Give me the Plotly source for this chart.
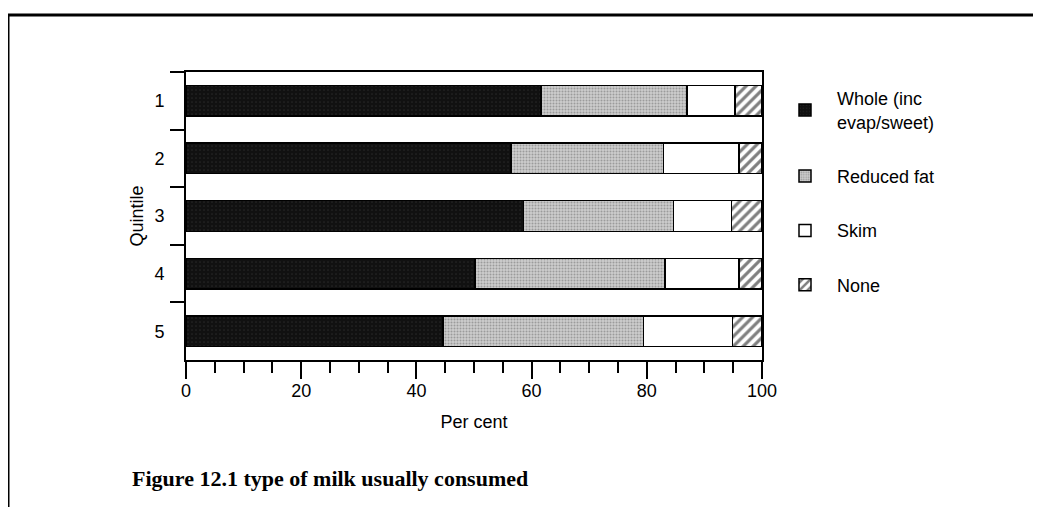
import plotly.graph_objects as go

quintiles = ["1", "2", "3", "4", "5"]
whole = [61.6, 56.4, 58.6, 50.2, 44.6]
reduced_fat = [25.4, 26.5, 26.0, 33.0, 34.8]
skim = [8.3, 13.1, 10.1, 12.8, 15.5]
none_ = [4.7, 4.0, 5.3, 4.0, 5.1]

series_names = ["Whole (inc<br>evap/sweet)", "Reduced fat", "Skim", "None"]
x_ticks = [0, 20, 40, 60, 80, 100]

# page body has an 8px margin; work in window pixels and compensate
OFF = 8
W, H = 1041 - OFF, 507 - OFF
L, R, T, B = 186 - OFF, 762 - OFF, 72 - OFF, 360 - OFF


def px_x(p):
    return (p - OFF - L) / (R - L)


def px_y(p):
    return (B - (p - OFF)) / (B - T)


FONT = "Liberation Sans, Arial, sans-serif"
line = dict(color="black", width=1.5)

fig = go.Figure()
fig.add_trace(go.Bar(
    y=quintiles, x=whole, name=series_names[0], orientation="h",
    legendgroup="a",
    marker=dict(color="#161616", line=line,
                pattern=dict(shape=".", bgcolor="#111111", fgcolor="#3a3a3a",
                             size=4, solidity=0.15)),
))
fig.add_trace(go.Bar(
    y=quintiles, x=reduced_fat, name=series_names[1], orientation="h",
    legendgroup="b",
    marker=dict(color="#c4c4c4", line=line,
                pattern=dict(shape=".", bgcolor="#cccccc", fgcolor="#6a6a6a",
                             size=3, solidity=0.35)),
))
fig.add_trace(go.Bar(
    y=quintiles, x=skim, name=series_names[2], orientation="h",
    legendgroup="c",
    marker=dict(color="white", line=line),
))
fig.add_trace(go.Bar(
    y=quintiles, x=none_, name=series_names[3], orientation="h",
    legendgroup="d",
    marker=dict(color="white", line=line,
                pattern=dict(shape="/", bgcolor="white", fgcolor="black",
                             size=7, solidity=0.45)),
))

fig.update_layout(
    width=W, height=H,
    margin=dict(l=L, r=W - R, t=T, b=H - B, autoexpand=False),
    barmode="stack",
    bargap=0.47,
    plot_bgcolor="white",
    paper_bgcolor="white",
    font=dict(family=FONT, size=18, color="black"),
    showlegend=True,
    legend=dict(
        x=px_x(773), y=px_y(80), xanchor="left", yanchor="top",
        traceorder="grouped", tracegroupgap=28,
        itemwidth=54,
        font=dict(family=FONT, size=18, color="black"),
        bgcolor="rgba(0,0,0,0)", borderwidth=0,
        itemclick=False,
    ),
    xaxis=dict(
        range=[0, 100],
        tickvals=x_ticks,
        ticks="outside", ticklen=17, tickwidth=2, tickcolor="black",
        ticklabelstandoff=-4,
        minor=dict(dtick=5, ticks="outside", ticklen=11, tickwidth=1.5,
                   tickcolor="black"),
        showline=True, linecolor="black", linewidth=2, mirror=True,
        showgrid=False, zeroline=False,
        title=dict(text="Per cent", standoff=16,
                   font=dict(family=FONT, size=18)),
        tickfont=dict(family=FONT, size=18),
    ),
    yaxis=dict(
        type="category",
        categoryorder="array", categoryarray=quintiles,
        autorange="reversed",
        tickson="boundaries",
        ticks="outside", ticklen=14, tickwidth=2, tickcolor="black",
        ticklabelstandoff=16,
        showline=True, linecolor="black", linewidth=2, mirror=True,
        showgrid=False, zeroline=False,
        title=dict(text="Quintile", standoff=6,
                   font=dict(family=FONT, size=18)),
        tickfont=dict(family=FONT, size=18),
    ),
    shapes=[
        dict(type="line", xref="paper", yref="paper",
             x0=px_x(8), x1=px_x(1041), y0=px_y(15), y1=px_y(15),
             line=dict(color="black", width=3)),
        dict(type="line", xref="paper", yref="paper",
             x0=px_x(8), x1=px_x(8), y0=px_y(15), y1=px_y(507),
             line=dict(color="black", width=3)),
    ],
    annotations=[
        dict(text="<b>Figure 12.1 type of milk usually consumed</b>",
             xref="paper", yref="paper", x=px_x(130), y=px_y(478),
             xanchor="left", yanchor="middle", showarrow=False,
             font=dict(family="Liberation Serif, Times New Roman, serif",
                       size=22, color="black")),
    ],
)

fig.write_html("out.html")
